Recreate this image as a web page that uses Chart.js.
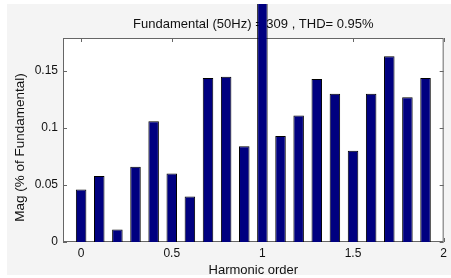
<!DOCTYPE html>
<html>
<head>
<meta charset="utf-8">
<script src="https://cdn.jsdelivr.net/npm/chart.js@4"></script>
<style>
  html, body { margin: 0; padding: 0; background: #ffffff; }
  #fig { position: absolute; left: 7px; top: 4px; width: 444px; height: 271px; background: #f4f4f4; }
</style>
</head>
<body>
<div id="fig"><canvas id="fft" width="444" height="271"></canvas></div>
<script>
// ─── Data ──────────────────────────────────────────────────────────────────────
const harmonicOrder = [0, 0.1, 0.2, 0.3, 0.4, 0.5, 0.6, 0.7, 0.8, 0.9,
                       1.0, 1.1, 1.2, 1.3, 1.4, 1.5, 1.6, 1.7, 1.8, 1.9];
const magnitude = [0.046, 0.058, 0.011, 0.066, 0.106, 0.060, 0.040, 0.144, 0.145, 0.084,
                   100, 0.093, 0.111, 0.143, 0.130, 0.080, 0.130, 0.163, 0.127, 0.144];
const xTicks = [0, 0.5, 1, 1.5, 2];
const yTicks = [0, 0.05, 0.1, 0.15];

const titleText = 'Fundamental (50Hz) = 309 , THD= 0.95%';
const yLabel = 'Mag (% of Fundamental)';

const font = 'Arial, "Liberation Sans", sans-serif';

// ─── MATLAB-style box with inward ticks ───────────────────────────────────────
const boxTicks = {
  id: 'boxTicks',
  beforeDatasetsDraw(chart) {
    const { ctx, chartArea: a, scales: { x, y } } = chart;
    ctx.save();
    ctx.fillStyle = '#ffffff';
    ctx.fillRect(a.left, a.top, a.right - a.left, a.bottom - a.top);
    ctx.strokeStyle = '#666666';
    ctx.lineWidth = 1;
    ctx.strokeRect(a.left + 0.5, a.top + 0.5, a.right - a.left - 1, a.bottom - a.top - 1);
    ctx.beginPath();
    xTicks.forEach(v => {
      const px = Math.round(x.getPixelForValue(v)) + 0.5;
      ctx.moveTo(px, a.bottom); ctx.lineTo(px, a.bottom - 4);
      ctx.moveTo(px, a.top);    ctx.lineTo(px, a.top + 4);
    });
    yTicks.forEach(v => {
      const py = Math.round(y.getPixelForValue(v)) + 0.5;
      ctx.moveTo(a.left, py);  ctx.lineTo(a.left + 4, py);
      ctx.moveTo(a.right, py); ctx.lineTo(a.right - 4, py);
    });
    ctx.stroke();

    // y label sits a little below the axis centre, as MATLAB placed it
    const midY = (a.top + a.bottom) / 2 + 7.5;
    ctx.translate(13, midY);
    ctx.rotate(-Math.PI / 2);
    ctx.fillStyle = '#111111';
    ctx.font = '13.5px ' + font;
    ctx.textAlign = 'center';
    ctx.textBaseline = 'middle';
    ctx.fillText(yLabel, 0, 0);
    ctx.restore();
  }
};

new Chart(document.getElementById('fft'), {
  type: 'bar',
  data: {
    datasets: [{
      data: harmonicOrder.map((h, i) => ({ x: h, y: magnitude[i] })),
      backgroundColor: '#000080',
      borderColor: '#000000',
      borderWidth: 1,
      barPercentage: 0.58,
      categoryPercentage: 1,
      clip: false
    }]
  },
  options: {
    responsive: false,
    animation: false,
    layout: { padding: { right: 4 } },
    plugins: {
      legend: { display: false },
      tooltip: { enabled: false },
      title: {
        display: true,
        text: titleText,
        fullSize: false,
        color: '#111111',
        font: { family: font, size: 13, weight: 'normal' },
        padding: { top: 13, bottom: 5.4 }
      }
    },
    scales: {
      x: {
        type: 'linear',
        offset: false,
        min: -0.1,
        max: 2,
        grid: { display: false, drawTicks: false },
        border: { display: false },
        afterBuildTicks: s => { s.ticks = xTicks.map(v => ({ value: v })); },
        afterFit: s => { s.height = 33; },
        ticks: {
          color: '#111111',
          font: { family: font, size: 12 },
          padding: 4,
          maxRotation: 0,
          callback: v => String(v)
        },
        title: {
          display: true,
          text: 'Harmonic order',
          color: '#111111',
          font: { family: font, size: 13 },
          padding: { top: 0, bottom: -3 }
        }
      },
      y: {
        min: 0,
        max: 0.179,
        grid: { display: false, drawTicks: false },
        border: { display: false },
        afterBuildTicks: s => { s.ticks = yTicks.map(v => ({ value: v })); },
        afterFit: s => { s.width = 56; },
        ticks: {
          color: '#111111',
          font: { family: font, size: 12 },
          padding: 5,
          callback: v => String(v)
        }
      }
    }
  },
  plugins: [boxTicks]
});
</script>
</body>
</html>
